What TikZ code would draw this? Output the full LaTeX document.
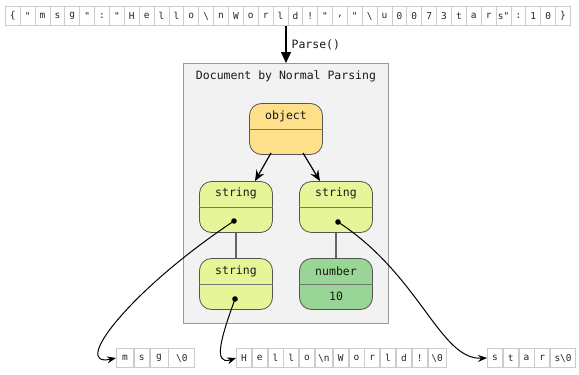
\documentclass[tikz,border=0pt]{standalone}
\usepackage{fontspec}
\setmonofont{DejaVu Sans Mono}
\usetikzlibrary{arrows.meta}
\definecolor{objfill}{HTML}{FEE08B}
\definecolor{strfill}{HTML}{E6F598}
\definecolor{numfill}{HTML}{99D594}
\definecolor{cellline}{HTML}{CCCCCC}
\definecolor{contfill}{HTML}{F2F2F2}
\definecolor{contline}{HTML}{999999}
\definecolor{nodeline}{HTML}{555555}
\tikzset{
  cell/.style={draw=cellline, line width=0.8, inner sep=0, minimum height=19, text=black!85, font=\ttfamily\fontsize{9.5}{11}\selectfont},
  jbox/.style={draw=nodeline, line width=0.8, rounded corners=12, minimum width=73, minimum height=51, inner sep=0},
  divider/.style={draw=nodeline!80, line width=0.8},
  link/.style={draw=nodeline!90, line width=1.5},
  tree/.style={line width=1.2, -{Stealth[length=11,width=9,inset=4]}},
  ptr/.style={line width=1, -{Stealth[length=9,width=7,inset=3]}},
  lbl/.style={font=\ttfamily\fontsize{11.5}{13}\selectfont, inner sep=0, text=black!90}
}
\begin{document}
\begin{tikzpicture}[x=1pt,y=-1pt]
\useasboundingbox[fill=white] (0,0) rectangle (579,375);

% top row
\foreach \t [count=\i] in {{\{},{"},m,s,g,{"},:,{"},H,e,l,l,o,{\textbackslash},n,W,o,r,l,d,!,{"},{,},{"},{\textbackslash},u,0,0,7,3,t,a,r,{s"},:,1,0,{\}}}
  \node[cell, minimum width=14.87, anchor=west] (top\i) at ({5+14.87*(\i-1)},16) {\t};

% container
\node[draw=contline, fill=contfill, line width=1, minimum width=205, minimum height=260, anchor=north west, inner sep=0] (cont) at (183,63) {};
\node[lbl] (title) at (286,76) {Document by Normal Parsing};

\draw[line width=1.2, -{Triangle[length=11,width=10]}] (cont.north |- top19.south) -- (cont.north) node[pos=0.5, right=5pt, lbl] (parse) {Parse()};

% tree nodes
\node[jbox, fill=objfill] (obj) at (286,129) {};
\draw[divider] (obj.west) -- (obj.east);
\node[lbl] (objt) at (286,116) {object};

\node[jbox, fill=strfill] (s1) at (236,207) {};
\draw[divider] (s1.west) -- (s1.east);
\node[lbl] (s1t) at (236,193) {string};

\node[jbox, fill=strfill] (s2) at (336,207) {};
\draw[divider] (s2.west) -- (s2.east);
\node[lbl] (s2t) at (336,193) {string};

\node[jbox, fill=strfill] (s3) at (236,284) {};
\draw[divider] (s3.west) -- (s3.east);
\node[lbl] (s3t) at (236,271) {string};

\node[jbox, fill=numfill] (n1) at (336,284) {};
\draw[divider] (n1.west) -- (n1.east);
\node[lbl] (n1t) at (336,271) {number};
\node[lbl] (n1v) at (336,296) {10};

\draw[link] (s1.south) -- (s3.north);
\draw[link] (s2.south) -- (n1.north);

\coordinate (oa) at (271,153);
\coordinate (ob) at (303,153);
\draw[tree] (oa) -- (s1.north -| 255,0);
\draw[tree] (ob) -- (s2.north -| 320,0);

% bottom arrays
\node[cell, minimum width=17, anchor=west] (m1) at (116,358) {m};
\node[cell, minimum width=15, anchor=west] (m2) at (m1.east) {s};
\node[cell, minimum width=18, anchor=west] (m3) at (m2.east) {g};
\node[cell, minimum width=26, anchor=west] (m4) at (m3.east) {\textbackslash 0};

\node[cell, minimum width=15, anchor=west] (h1) at (236,358) {H};
\foreach \t/\w [count=\i from 2, remember=\i as \p (initially 1)] in {e/15,l/15,l/15,o/15,{\textbackslash n}/17,W/15,o/15,r/15,l/15,d/15,!/15,{\textbackslash 0}/18}
  \node[cell, minimum width=\w, anchor=west] (h\i) at (h\p.east) {\t};

\node[cell, minimum width=15, anchor=west] (r1) at (487,358) {s};
\node[cell, minimum width=15, anchor=west] (r2) at (r1.east) {t};
\node[cell, minimum width=15, anchor=west] (r3) at (r2.east) {a};
\node[cell, minimum width=15, anchor=west] (r4) at (r3.east) {r};
\node[cell, minimum width=25, anchor=west] (r5) at (r4.east) {s\textbackslash 0};

% pointers
\coordinate (d1) at (234,221);
\coordinate (d2) at (338,222);
\coordinate (d3) at (235,299);
\fill (d1) circle[radius=2.8];
\fill (d2) circle[radius=2.8];
\fill (d3) circle[radius=2.8];
\draw[ptr] (d1) .. controls (130,290) and (70,368) .. (m1.west);
\draw[ptr] (d3) .. controls (222,335) and (212,366) .. (h1.west);
\draw[ptr] (d2) .. controls (420,275) and (440,360) .. (r1.west);
\end{tikzpicture}
\end{document}
